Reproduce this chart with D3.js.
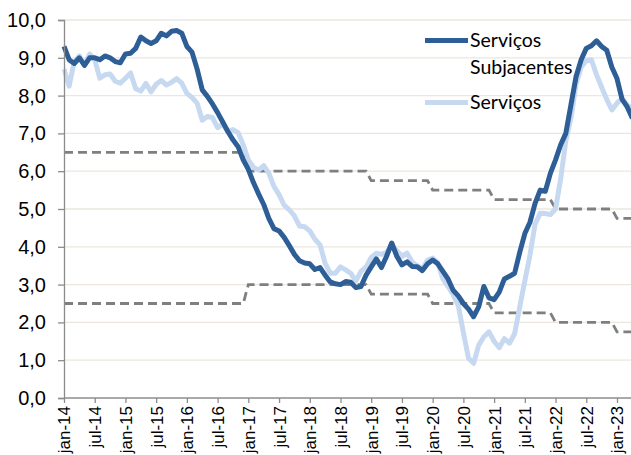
<!DOCTYPE html>
<html>
<head>
<meta charset="utf-8">
<style>
  body { margin: 0; background: #fff; }
  svg { display: block; }
  .tick text { fill: #000; }
</style>
</head>
<body>
<svg width="631" height="455"></svg>
<script src="https://d3js.org/d3.v7.min.js"></script>
<script>

// monthly values, jan-14 .. apr-23
var start = new Date(2014, 0, 1);

var subjacentes = [
  9.3, 8.95, 8.85, 9.0, 8.8, 9.0, 9.0, 8.95, 9.05, 9.0, 8.9, 8.87,
  9.1, 9.12, 9.25, 9.55, 9.45, 9.38, 9.45, 9.65, 9.58, 9.7, 9.72, 9.65,
  9.3, 9.15, 8.7, 8.15, 7.98, 7.78, 7.55, 7.3, 7.05, 6.83, 6.65, 6.3,
  6.05, 5.7, 5.4, 5.12, 4.75, 4.48, 4.42, 4.25, 4.03, 3.8, 3.63, 3.57,
  3.55, 3.4, 3.45, 3.25, 3.07, 3.02, 3.0, 3.08, 3.06, 2.92, 2.95, 3.25,
  3.47, 3.68, 3.45, 3.75, 4.1, 3.75, 3.52, 3.6, 3.48, 3.47, 3.37, 3.55,
  3.65, 3.55, 3.35, 3.15, 2.85, 2.7, 2.5, 2.35, 2.15, 2.42, 2.95, 2.65,
  2.6, 2.8, 3.15, 3.22, 3.3, 3.85, 4.35, 4.65, 5.15, 5.5, 5.47, 5.95,
  6.3, 6.7, 7.0, 7.75, 8.5, 8.95, 9.25, 9.32, 9.45, 9.3, 9.2, 8.75,
  8.45, 7.9, 7.7, 7.4
];

var servicos = [
  8.7, 8.25, 8.9, 9.05, 8.8, 9.1, 8.95, 8.46, 8.55, 8.57, 8.38, 8.33,
  8.46, 8.6, 8.18, 8.12, 8.32, 8.1, 8.3, 8.4, 8.28, 8.35, 8.45, 8.33,
  8.06, 7.95, 7.8, 7.35, 7.45, 7.42, 7.15, 7.25, 7.05, 7.1, 7.02, 6.7,
  6.3, 6.1, 6.03, 6.15, 5.95, 5.6, 5.38, 5.1, 4.98, 4.82, 4.55, 4.53,
  4.42, 4.2, 4.05, 3.56, 3.3, 3.3, 3.47, 3.39, 3.3, 3.1, 3.35, 3.47,
  3.72, 3.83, 3.8, 3.85, 4.05, 3.9, 3.75, 3.83, 3.6, 3.5, 3.42, 3.65,
  3.7, 3.58, 3.15, 2.95, 2.73, 2.45, 1.73, 1.05, 0.92, 1.4, 1.62, 1.75,
  1.5, 1.33, 1.57, 1.45, 1.7, 2.4, 3.1, 3.78, 4.6, 4.89, 4.88, 4.85,
  5.0, 5.8, 6.8, 7.4, 8.3, 8.75, 8.93, 8.95, 8.55, 8.22, 7.9, 7.62,
  7.8, 7.93, 7.75, 7.65
];

var bandYears = [2014, 2015, 2016, 2017, 2018, 2019, 2020, 2021, 2022, 2023];
var bandUpper = [6.5, 6.5, 6.5, 6.0, 6.0, 5.75, 5.5, 5.25, 5.0, 4.75];
var bandLower = [2.5, 2.5, 2.5, 3.0, 3.0, 2.75, 2.5, 2.25, 2.0, 1.75];

var tickLabels = ["jan-14", "jul-14", "jan-15", "jul-15", "jan-16", "jul-16",
  "jan-17", "jul-17", "jan-18", "jul-18", "jan-19", "jul-19", "jan-20",
  "jul-20", "jan-21", "jul-21", "jan-22", "jul-22", "jan-23"];

var yTicks = [0, 1, 2, 3, 4, 5, 6, 7, 8, 9, 10];

var svg = d3.select("svg");

var monthIndex = function(d) {
  return (d.getFullYear() - start.getFullYear()) * 12 + d.getMonth() - start.getMonth();
};

var x = d3.scaleLinear().domain([0, 108]).range([64, 617]);
var y = d3.scaleLinear().domain([0, 10]).range([398, 20]);

var nMonths = servicos.length;
var dates = d3.range(nMonths).map(function(i) { return d3.timeMonth.offset(start, i); });

// gridlines
svg.append("g")
  .selectAll("line")
  .data(yTicks.slice(1))
  .enter().append("line")
  .attr("x1", 64).attr("x2", 631)
  .attr("y1", function(d) { return y(d); })
  .attr("y2", function(d) { return y(d); })
  .attr("stroke", "#ebe7de")
  .attr("stroke-width", 1.3);

// band lines
function bandPoints(vals) {
  var pts = [];
  bandYears.forEach(function(yr, i) {
    var m0 = (yr - 2014) * 12;
    var m1 = i == bandYears.length - 1 ? nMonths - 1 : m0 + 11;
    pts.push([m0, vals[i]]);
    pts.push([m1, vals[i]]);
  });
  return pts;
}

var bandLine = d3.line()
  .x(function(d) { return x(d[0]); })
  .y(function(d) { return y(d[1]); });

[bandUpper, bandLower].forEach(function(vals) {
  svg.append("path")
    .attr("d", bandLine(bandPoints(vals)))
    .attr("fill", "none")
    .attr("stroke", "#7f7f7f")
    .attr("stroke-width", 2.8)
    .attr("stroke-dasharray", "9,5");
});

var line = d3.line()
  .x(function(d, i) { return x(monthIndex(dates[i])); })
  .y(function(d) { return y(d); });

svg.append("path")
  .attr("d", line(servicos))
  .attr("fill", "none")
  .attr("stroke", "#c6d9f1")
  .attr("stroke-width", 5)
  .attr("stroke-linejoin", "round");

svg.append("path")
  .attr("d", line(subjacentes))
  .attr("fill", "none")
  .attr("stroke", "#2e5e96")
  .attr("stroke-width", 5)
  .attr("stroke-linejoin", "round");

// axes
var yAxis = svg.append("g")
  .attr("transform", "translate(64,0)")
  .call(d3.axisLeft(y).tickValues(yTicks).tickSize(6).tickPadding(12)
    .tickFormat(function(d) { return d.toFixed(1).replace(".", ","); }));
yAxis.selectAll("line, path").attr("stroke", "#8c8c8c").attr("stroke-width", 1.3);
yAxis.selectAll("text")
  .style("font-family", "'Liberation Sans', Arial, sans-serif")
  .style("font-size", "20px");

var xAxis = svg.append("g")
  .attr("transform", "translate(0,398)")
  .call(d3.axisBottom(x).tickValues(d3.range(0, 109, 6)).tickSize(5).tickSizeOuter(0)
    .tickFormat(function(d, i) { return tickLabels[i]; }));
xAxis.select(".domain").attr("d", "M64,0H631");
xAxis.selectAll("line, path").attr("stroke", "#8c8c8c").attr("stroke-width", 1.3);
xAxis.selectAll("text")
  .style("font-family", "'Liberation Sans', Arial, sans-serif")
  .style("font-size", "17px")
  .attr("text-anchor", "end")
  .attr("transform", "rotate(-90)")
  .attr("x", -8)
  .attr("y", 0)
  .attr("dy", "0.35em");

// legend
var legend = svg.append("g").style("font-family", "Lato, 'Open Sans', sans-serif").style("font-size", "19.5px");
legend.append("line").attr("x1", 425).attr("x2", 468).attr("y1", 40.5).attr("y2", 40.5)
  .attr("stroke", "#2e5e96").attr("stroke-width", 5);
legend.append("text").attr("x", 470).attr("y", 47).text("Serviços");
legend.append("text").attr("x", 470).attr("y", 73.5).text("Subjacentes");
legend.append("line").attr("x1", 425).attr("x2", 468).attr("y1", 102.5).attr("y2", 102.5)
  .attr("stroke", "#c6d9f1").attr("stroke-width", 5);
legend.append("text").attr("x", 470).attr("y", 109).text("Serviços");

</script>
</body>
</html>
